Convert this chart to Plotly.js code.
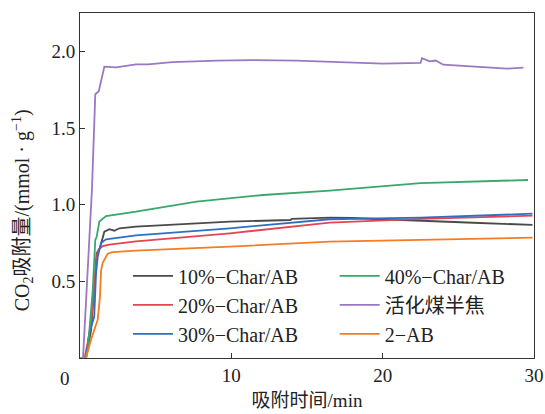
<!DOCTYPE html>
<html>
<head>
<meta charset="utf-8">
<script src="https://cdn.plot.ly/plotly-3.0.1.min.js"></script>
<style>html,body{margin:0;padding:0;background:#fff;}#chart{width:545px;height:414px;}</style>
</head>
<body>
<div id="chart"></div>
<script>
// Series names
const names = ["10%−Char/AB", "20%−Char/AB", "30%−Char/AB", "40%−Char/AB", "活化煤半焦", "2−AB"];
const colors = ["#4a4a4a", "#e6454f", "#2f6fc2", "#3aa86a", "#9a78c4", "#f47c22"];

// 10%-Char/AB
const t10 = [0, 0.4, 0.73, 0.94, 1.10, 1.17, 1.32, 1.61, 1.94, 2.27, 2.60, 3.7, 6.6, 9.9, 13.9, 14.0, 16.5, 18, 20, 22.5, 26, 29.9];
const v10 = [0, 0, 0.18, 0.44, 0.685, 0.69, 0.72, 0.824, 0.84, 0.83, 0.846, 0.857, 0.874, 0.889, 0.90, 0.907, 0.915, 0.913, 0.905, 0.894, 0.882, 0.868];
// 20%-Char/AB
const t20 = [0, 0.3, 0.51, 0.73, 0.94, 1.06, 1.17, 1.50, 1.94, 3.7, 9.9, 16.5, 22.5, 29.9];
const v20 = [0, 0, 0.10, 0.23, 0.44, 0.62, 0.70, 0.73, 0.74, 0.76, 0.813, 0.883, 0.907, 0.928];
// 30%-Char/AB
const t30 = [0, 0.4, 0.61, 0.94, 1.06, 1.17, 1.39, 1.72, 3.7, 9.9, 16.5, 22.5, 29.9];
const v30 = [0, 0, 0.16, 0.27, 0.55, 0.66, 0.75, 0.774, 0.80, 0.846, 0.905, 0.915, 0.941];
// 40%-Char/AB
const t40 = [0, 0.3, 0.51, 0.84, 1.01, 1.10, 1.28, 1.72, 3.7, 7.7, 12.1, 16.5, 22.5, 29.6];
const v40 = [0, 0, 0.05, 0.44, 0.77, 0.79, 0.89, 0.926, 0.954, 1.02, 1.063, 1.091, 1.14, 1.161];
// 活化煤半焦
const tAC = [0, 0.2, 0.79, 0.88, 1.01, 1.24, 1.61, 2.4, 3.7, 4.5, 6.1, 9.05, 11.4, 14.3, 17.0, 20.0, 22.5, 22.6, 23.1, 23.5, 24.0, 26.4, 28.2, 29.3];
const vAC = [0, 0, 1.10, 1.31, 1.72, 1.74, 1.90, 1.895, 1.915, 1.915, 1.93, 1.94, 1.943, 1.94, 1.93, 1.92, 1.925, 1.955, 1.935, 1.94, 1.913, 1.90, 1.887, 1.894];
// 2-AB
const tAB = [0, 0.4, 0.73, 1.17, 1.32, 1.39, 1.50, 1.83, 2.16, 3.7, 9.9, 16.5, 22.5, 29.9];
const vAB = [0, 0, 0.12, 0.25, 0.40, 0.57, 0.62, 0.68, 0.69, 0.70, 0.726, 0.759, 0.77, 0.785];

const xs = [t10, t20, t30, t40, tAC, tAB];
const ys = [v10, v20, v30, v40, vAC, vAB];

const font = "Liberation Serif, Times New Roman, Noto Sans CJK SC, serif";

const traces = names.map((n, i) => ({
  x: xs[i], y: ys[i], name: n, type: "scatter", mode: "lines",
  line: {color: colors[i], width: 1.8},
  legend: i < 3 ? "legend" : "legend2"
}));

const legendBase = {
  orientation: "v", bgcolor: "rgba(0,0,0,0)", borderwidth: 0,
  font: {family: font, size: 20, color: "#222"},
  itemwidth: 40, tracegroupgap: 0,
  xanchor: "left", yanchor: "middle"
};

const layout = {
  width: 545, height: 414,
  margin: {l: 80, r: 11, t: 13, b: 56},
  paper_bgcolor: "#fff", plot_bgcolor: "#fff",
  font: {family: font, size: 19, color: "#222"},
  showlegend: true,
  legend: Object.assign({}, legendBase, {x: 0.1057, y: 0.154}),
  legend2: Object.assign({}, legendBase, {x: 0.561, y: 0.154}),
  xaxis: {
    range: [0, 30], tickvals: [10, 20, 30], ticks: "inside", ticklen: 5,
    tickcolor: "#333", showline: true, linecolor: "#333", linewidth: 1, mirror: true,
    showgrid: false, zeroline: false,
    tickfont: {family: font, size: 19, color: "#222"},
    title: {text: "吸附时间/min", font: {family: font, size: 19, color: "#222"}, standoff: 8}
  },
  yaxis: {
    range: [0, 2.25], tickvals: [0.5, 1.0, 1.5, 2.0], ticktext: ["0.5", "1.0", "1.5", "2.0"],
    ticks: "inside", ticklen: 5,
    tickcolor: "#333", showline: true, linecolor: "#333", linewidth: 1, mirror: true,
    showgrid: false, zeroline: false,
    tickfont: {family: font, size: 19, color: "#222"}
  },
  annotations: [{
    text: "0", xref: "paper", yref: "paper", x: -0.033, y: -0.058,
    xanchor: "center", yanchor: "middle", showarrow: false,
    font: {family: font, size: 19, color: "#222"}
  }, {
    text: "CO<sub>2</sub>吸附量/(mmol · g<sup>−1</sup>)", xref: "paper", yref: "paper",
    x: -0.1256, y: 0.428, xanchor: "center", yanchor: "middle", textangle: -90,
    showarrow: false, font: {family: font, size: 20, color: "#222"}
  }]
};

Plotly.newPlot("chart", traces, layout, {displayModeBar: false, staticPlot: true});
</script>
</body>
</html>
